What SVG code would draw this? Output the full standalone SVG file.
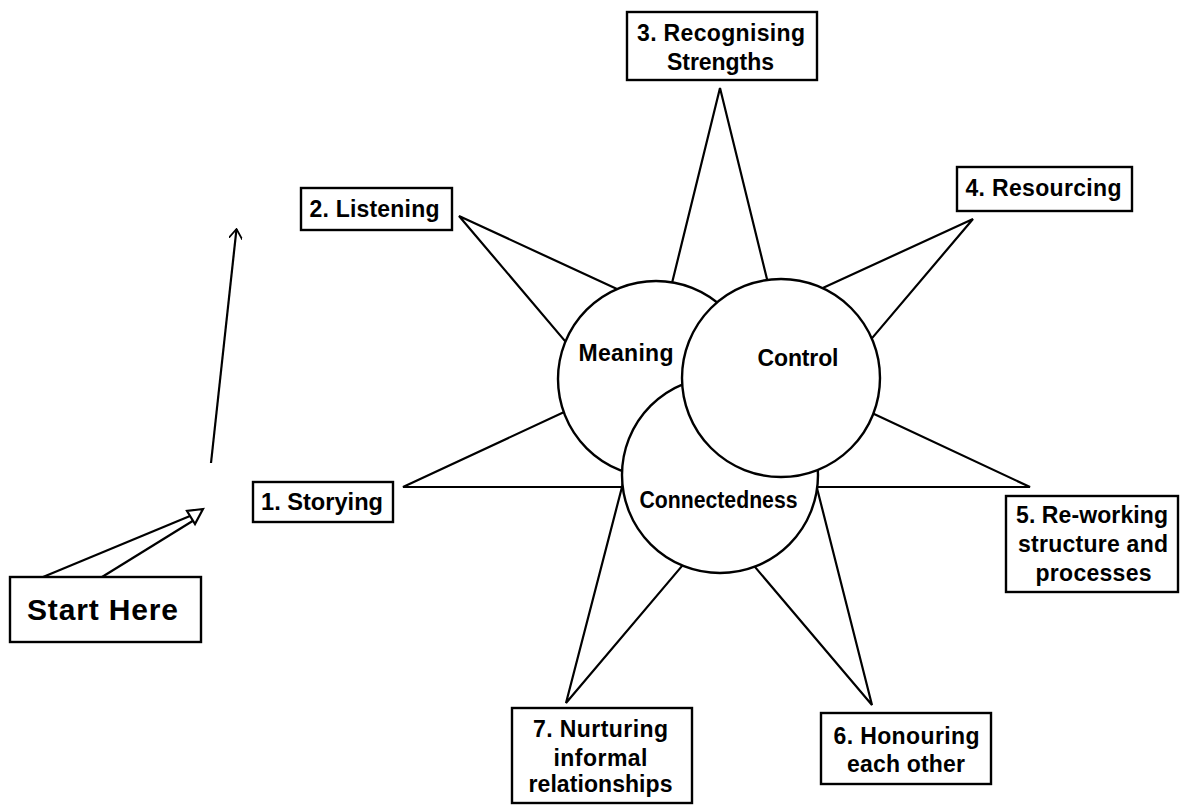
<svg xmlns="http://www.w3.org/2000/svg" width="1180" height="805" viewBox="0 0 1180 805">
  <style>
    .ln { fill: none; stroke: #000; stroke-width: 2.2; stroke-linejoin: miter; }
    .box { fill: #fff; stroke: #000; stroke-width: 2.4; }
    .hub { fill: #fff; stroke: #000; stroke-width: 2.4; }
    .t { font-family: "Liberation Sans", Arial, sans-serif; font-weight: bold; font-size: 23px; fill: #000; text-anchor: middle; }
    .big { font-size: 30px; }
  </style>
  <defs>
    <marker id="openHead" markerUnits="userSpaceOnUse" viewBox="0 0 11 14" refX="10" refY="7" markerWidth="11" markerHeight="14" orient="auto">
      <path d="M0,0 L10,7 L0,14" fill="none" stroke="#000" stroke-width="1.8"/>
    </marker>
  </defs>

  <rect width="1180" height="805" fill="#fff"/>

  <!-- star points: each one runs from a circle edge out to its tip and back -->
  <g id="connectors">
    <polyline id="spike-1" class="ln" points="567.4,410.5 403,487 628,487"/>
    <polyline id="spike-2" class="ln" points="622.4,291.5 459,216 568.9,345.6"/>
    <polyline id="spike-3" class="ln" points="670.6,288.8 720,88 768.4,284.8"/>
    <polyline id="spike-4" class="ln" points="819.5,289.5 973,219 869.1,341.6"/>
    <polyline id="spike-5" class="ln" points="866.6,410.5 1030,487 811,487"/>
    <polyline id="spike-6" class="ln" points="751.1,562.4 872,705 815.5,482.2"/>
    <polyline id="spike-7" class="ln" points="685.9,561.4 566,703 623.5,481.2"/>

    <!-- upward arrow -->
    <line id="up-arrow" class="ln" x1="211" y1="463" x2="236.5" y2="229" marker-end="url(#openHead)"/>

    <!-- wedge pointer from Start Here -->
    <g id="start-pointer">
      <line class="ln" x1="43" y1="577" x2="190" y2="516"/>
      <line class="ln" x1="102" y1="577" x2="193" y2="520.7"/>
      <polygon class="ln" points="187,511 195,524 203,509" style="fill:#fff"/>
    </g>
  </g>

  <!-- central circles -->
  <g id="meaning">
    <circle class="hub" cx="656" cy="379" r="98"/>
    <text class="t" x="626" y="360.5" textLength="95" lengthAdjust="spacing">Meaning</text>
  </g>
  <g id="connectedness">
    <circle class="hub" cx="720" cy="475" r="98"/>
    <text class="t" x="718.5" y="507.5" textLength="158" lengthAdjust="spacingAndGlyphs">Connectedness</text>
  </g>
  <g id="control">
    <circle class="hub" cx="781" cy="378" r="99"/>
    <text class="t" x="798" y="366" textLength="81" lengthAdjust="spacing">Control</text>
  </g>

  <!-- step labels -->
  <g id="start-here">
    <rect class="box" x="10" y="577" width="191" height="65"/>
    <text class="t big" x="102.5" y="620" textLength="151" lengthAdjust="spacing">Start Here</text>
  </g>
  <g id="step-1">
    <rect class="box" x="253" y="482" width="140" height="40"/>
    <text class="t" x="322" y="510" textLength="122" lengthAdjust="spacingAndGlyphs">1. Storying</text>
  </g>
  <g id="step-2">
    <rect class="box" x="301" y="188" width="151" height="42"/>
    <text class="t" x="374.5" y="217" textLength="130" lengthAdjust="spacing">2. Listening</text>
  </g>
  <g id="step-3">
    <rect class="box" x="627" y="12" width="190" height="68"/>
    <text class="t" x="721" y="40.5" textLength="168" lengthAdjust="spacing">3. Recognising</text>
    <text class="t" x="720.5" y="70" textLength="107" lengthAdjust="spacing">Strengths</text>
  </g>
  <g id="step-4">
    <rect class="box" x="957" y="167" width="175" height="44"/>
    <text class="t" x="1043.5" y="196" textLength="156" lengthAdjust="spacing">4. Resourcing</text>
  </g>
  <g id="step-5">
    <rect class="box" x="1006" y="496" width="172" height="96"/>
    <text class="t" x="1092" y="523" textLength="152" lengthAdjust="spacing">5. Re-working</text>
    <text class="t" x="1093" y="552" textLength="150" lengthAdjust="spacing">structure and</text>
    <text class="t" x="1093.5" y="581" textLength="116" lengthAdjust="spacing">processes</text>
  </g>
  <g id="step-6">
    <rect class="box" x="821" y="713" width="170" height="71"/>
    <text class="t" x="906.5" y="744" textLength="146" lengthAdjust="spacing">6. Honouring</text>
    <text class="t" x="906" y="771.5" textLength="118" lengthAdjust="spacing">each other</text>
  </g>
  <g id="step-7">
    <rect class="box" x="512" y="708" width="180" height="95"/>
    <text class="t" x="600.5" y="737" textLength="135" lengthAdjust="spacing">7. Nurturing</text>
    <text class="t" x="600.5" y="765.5" textLength="94" lengthAdjust="spacing">informal</text>
    <text class="t" x="600.5" y="792" textLength="144" lengthAdjust="spacing">relationships</text>
  </g>
</svg>
